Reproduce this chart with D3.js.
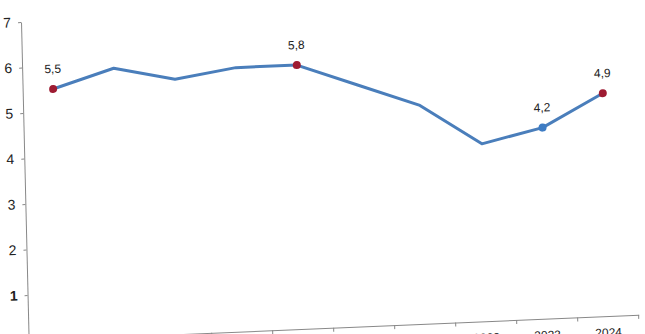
<!DOCTYPE html>
<html>
<head>
<meta charset="utf-8">
<script src="https://cdn.jsdelivr.net/npm/d3@7"></script>
<style>
  body { margin: 0; background: #fff; }
  svg { display: block; font-family: "Liberation Sans", Arial, sans-serif; }
  .axis path, .axis line { stroke: #888; }
  .axis text { fill: #222; }
</style>
</head>
<body>
<svg width="645" height="334"></svg>
<script>
// yearly values
var years  = ["2015", "2016", "2017", "2018", "2019", "2020", "2021", "2022", "2023", "2024"];
var values = [5.5, 5.9, 5.6, 5.8, 5.8, 5.3, 4.8, 3.9, 4.2, 4.9];
// points that carry a marker and a data label
var marked = ["2015", "2019", "2023", "2024"];
var blueMarked = "2023";
var yTicks = [0, 1, 2, 3, 4, 5, 6, 7];

var svg = d3.select("svg");

// the source is a slightly skewed photo of the chart, so the plot sits in a sheared frame
var g = svg.append("g")
  .attr("transform", "matrix(1,-0.042,0.024,1,21,22)");

var plotW = 610,
    plotH = 318.5;

var x = d3.scaleBand()
  .domain(years)
  .range([0, plotW]);

var y = d3.scaleLinear()
  .domain([0, 7])
  .range([plotH, 0]);

// y axis
var yAxis = g.append("g")
  .attr("class", "axis axis--y")
  .call(d3.axisLeft(y).tickValues(yTicks).tickFormat(d3.format("d"))
    .tickSize(3).tickPadding(7).tickSizeOuter(0));
yAxis.selectAll("text")
  .attr("font-size", 14)
  .attr("font-weight", function(d) { return d == 1 ? "bold" : "normal"; });
yAxis.select(".domain").attr("stroke", "#999");

// x axis, ticks between categories like excel does
var xAxis = g.append("g")
  .attr("class", "axis axis--x")
  .attr("transform", "translate(0," + plotH + ")")
  .call(d3.axisBottom(x).tickSize(0).tickPadding(12).tickSizeOuter(0));
xAxis.selectAll("text").attr("font-size", 12);
xAxis.selectAll(".bound")
  .data(years)
  .enter().append("line")
    .attr("class", "bound")
    .attr("x1", function(d) { return x(d) + x.bandwidth(); })
    .attr("x2", function(d) { return x(d) + x.bandwidth(); })
    .attr("y1", 0)
    .attr("y2", 4)
    .attr("stroke", "#888");
xAxis.select(".domain").attr("stroke", "#777");

var pts = years.map(function(d, i) { return [d, values[i]]; });

var line = d3.line()
  .x(function(d) { return x(d[0]) + x.bandwidth() / 2; })
  .y(function(d) { return y(d[1]); });

g.append("path")
  .datum(pts)
  .attr("fill", "none")
  .attr("stroke", "#4a7ebb")
  .attr("stroke-width", 3)
  .attr("stroke-linejoin", "round")
  .attr("d", line);

var fmt = d3.format(".1f");
var markPts = pts.filter(function(d) { return marked.indexOf(d[0]) >= 0; });

g.selectAll(".marker")
  .data(markPts)
  .enter().append("circle")
    .attr("class", "marker")
    .attr("cx", function(d) { return x(d[0]) + x.bandwidth() / 2; })
    .attr("cy", function(d) { return y(d[1]); })
    .attr("r", 4)
    .attr("fill", function(d) { return d[0] == blueMarked ? "#3d7cc4" : "#9e1b32"; });

g.selectAll(".dlabel")
  .data(markPts)
  .enter().append("text")
    .attr("class", "dlabel")
    .attr("x", function(d) { return x(d[0]) + x.bandwidth() / 2; })
    .attr("y", function(d) { return y(d[1]) - 16; })
    .attr("text-anchor", "middle")
    .attr("font-size", 12)
    .attr("fill", "#222")
    .text(function(d) { return fmt(d[1]).replace(".", ","); });
</script>
</body>
</html>
